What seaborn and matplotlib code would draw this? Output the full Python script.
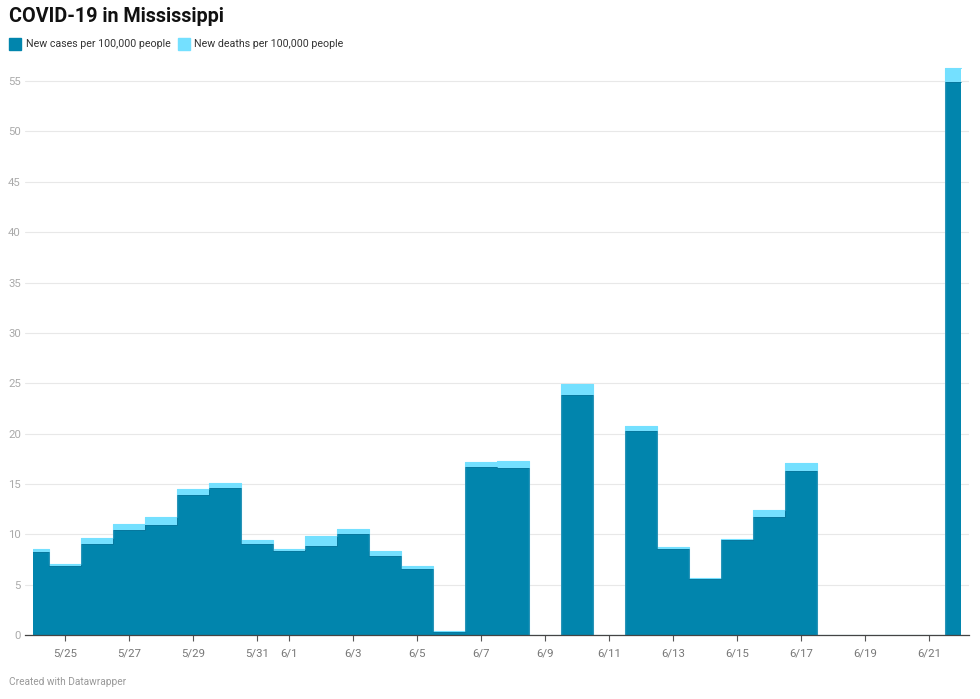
import numpy as np
import pandas as pd
import matplotlib
matplotlib.use('Agg')
import matplotlib.pyplot as plt
import seaborn as sns

# Data (per 100,000 people)
days = ['5/24', '5/25', '5/26', '5/27', '5/28', '5/29', '5/30', '5/31',
        '6/1', '6/2', '6/3', '6/4', '6/5', '6/6', '6/7', '6/8', '6/9', '6/10',
        '6/11', '6/12', '6/13', '6/14', '6/15', '6/16', '6/17', '6/18', '6/19',
        '6/20', '6/21', '6/22']
cases = [8.2, 6.85, 9.07, 10.4, 10.9, 13.9, 14.63, 9.0,
         8.34, 8.88, 10.03, 7.88, 6.59, 0.3, 16.65, 16.58, 0, 23.85,
         0, 20.3, 8.54, 5.56, 9.4, 11.75, 16.29, 0, 0,
         0, 0, 54.95]
deaths = [0.3, 0.25, 0.56, 0.6, 0.8, 0.57, 0.43, 0.4,
          0.16, 0.95, 0.5, 0.42, 0.3, 0.05, 0.5, 0.7, 0, 1.1,
          0, 0.44, 0.23, 0.1, 0.13, 0.66, 0.76, 0, 0,
          0, 0, 1.4]
tick_days = ['5/25', '5/27', '5/29', '5/31', '6/1', '6/3', '6/5', '6/7',
             '6/9', '6/11', '6/13', '6/15', '6/17', '6/19', '6/21']

c_cases = '#0185AD'
c_deaths = '#74E0FF'

df = pd.DataFrame({'day': days, 'cases': cases, 'deaths': deaths})
df['idx'] = np.arange(len(df))
df['total'] = df['cases'] + df['deaths']

sns.set_theme(style='white')
plt.rcParams['font.family'] = ['Roboto', 'DejaVu Sans']

fig = plt.figure(figsize=(9.8, 6.99), dpi=100)
ax = fig.add_axes([25 / 980, 64 / 699, 944 / 980, 572 / 699])

# stacked step areas
ax.fill_between(df['idx'], 0, df['total'], step='mid', color=c_deaths, lw=0)
sns.lineplot(data=df, x='idx', y='total', drawstyle='steps-mid',
             color=c_deaths, lw=0.8, ax=ax)
ax.fill_between(df['idx'], 0, df['cases'], step='mid', color=c_cases, lw=0)
sns.lineplot(data=df, x='idx', y='cases', drawstyle='steps-mid',
             color='#0a7398', lw=0.5, ax=ax)

ax.set_xlim(-0.25, 29.25)
ax.set_ylim(0, 56.8)
ax.set_yticks(range(0, 56, 5))
ax.yaxis.grid(True, color='#e8e8e8', lw=0.8)
ax.set_axisbelow(True)
ax.tick_params(axis='y', length=0, pad=3, labelsize=8.2, labelcolor='#aaaaaa')
for lab in ax.get_yticklabels():
    lab.set_horizontalalignment('right')

ax.set_xticks([days.index(d) for d in tick_days])
ax.set_xticklabels(tick_days)
ax.tick_params(axis='x', length=4, width=0.8, color='#555555', pad=6,
               labelsize=8.2, labelcolor='#777777', bottom=True)
ax.set_xlabel('')
ax.set_ylabel('')
for s in ['top', 'right', 'left']:
    ax.spines[s].set_visible(False)
ax.spines['bottom'].set_color('#444444')
ax.spines['bottom'].set_linewidth(0.9)
ax.spines['bottom'].set_zorder(5)

# title, legend, footer
fig.text(9 / 980, 1 - 17 / 699, 'COVID-19 in Mississippi', fontsize=14.2,
         fontweight='bold', va='center', ha='left', color='#111111')
fig.patches.append(plt.Rectangle((9 / 980, 1 - 50 / 699), 12 / 980, 12 / 699,
                                 transform=fig.transFigure, color=c_cases))
fig.text(26 / 980, 1 - 44 / 699, 'New cases per 100,000 people', fontsize=7.7,
         va='center', ha='left', color='#333333')
fig.patches.append(plt.Rectangle((178 / 980, 1 - 50 / 699), 12 / 980, 12 / 699,
                                 transform=fig.transFigure, color=c_deaths))
fig.text(194 / 980, 1 - 44 / 699, 'New deaths per 100,000 people', fontsize=7.7,
         va='center', ha='left', color='#333333')
fig.text(9 / 980, 1 - 682 / 699, 'Created with Datawrapper', fontsize=7.3,
         va='center', ha='left', color='#999999')

fig.savefig('out.png', dpi=100)
